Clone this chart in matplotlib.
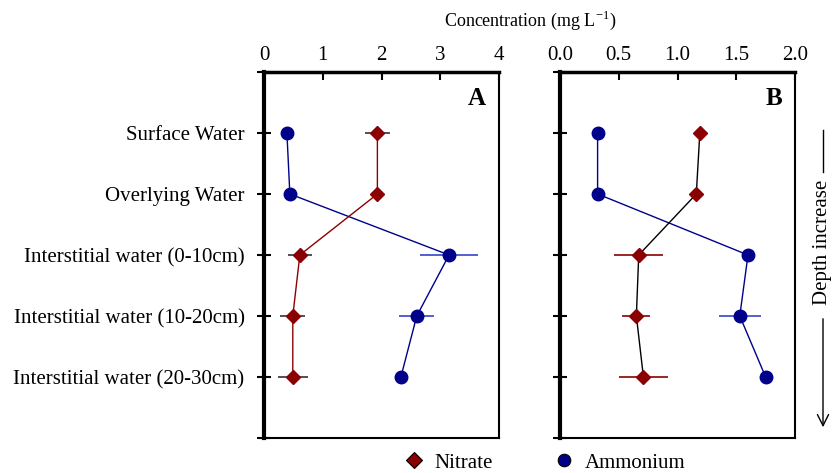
import matplotlib
matplotlib.use("Agg")
import matplotlib.pyplot as plt
from matplotlib.lines import Line2D

plt.rcParams['font.family'] = ['Liberation Serif', 'DejaVu Serif']
plt.rcParams['mathtext.fontset'] = 'custom'
plt.rcParams['mathtext.rm'] = 'Liberation Serif'

# --- data ---
sites = ["Surface Water", "Overlying Water", "Interstitial water (0-10cm)",
         "Interstitial water (10-20cm)", "Interstitial water (20-30cm)"]
depth_pos = [1, 2, 3, 4, 5]

nitrate_a = [1.93, 1.93, 0.61, 0.49, 0.49]
nitrate_a_err = [0.21, 0.10, 0.21, 0.21, 0.26]
ammonium_a = [0.39, 0.44, 3.15, 2.60, 2.33]
ammonium_a_err = [0.0, 0.0, 0.50, 0.30, 0.0]

nitrate_b = [1.19, 1.16, 0.67, 0.65, 0.71]
nitrate_b_err = [0.0, 0.04, 0.21, 0.12, 0.21]
ammonium_b = [0.32, 0.32, 1.60, 1.53, 1.75]
ammonium_b_err = [0.05, 0.0, 0.0, 0.18, 0.0]

RED = '#8b0000'
BLUE = '#00008b'
FS = 15

fig = plt.figure(figsize=(8.33, 4.73), dpi=100)
ax_a = fig.add_axes([264 / 833, 1 - 438 / 473, 235 / 833, 366 / 473])
ax_b = fig.add_axes([560 / 833, 1 - 438 / 473, 235 / 833, 366 / 473])


def draw_panel(ax, nit, nit_err, amm, amm_err, nit_line, nit_ecol, xmax, ticks, ticklabels, letter):
    ax.errorbar(amm, depth_pos, xerr=amm_err, fmt='none', ecolor='#3344cc', elinewidth=1.2, capsize=0, zorder=2)
    ax.errorbar(nit, depth_pos, xerr=nit_err, fmt='none', ecolor=nit_ecol, elinewidth=1.2, capsize=0, zorder=2)
    ax.plot(amm, depth_pos, color=BLUE, lw=1, marker='o', ms=9, mfc=BLUE, mec=BLUE, zorder=3)
    ax.plot(nit, depth_pos, color=nit_line, lw=1, marker='D', ms=7.5, mfc=RED, mec=RED, zorder=3)
    ax.set_xlim(0, xmax)
    ax.set_ylim(6, 0)
    ax.xaxis.tick_top()
    ax.set_xticks(ticks)
    ax.set_xticklabels(ticklabels)
    ax.set_yticks([0, 1, 2, 3, 4, 5, 6])
    ax.tick_params(axis='x', direction='in', length=6, width=1.5, labelsize=FS, pad=5)
    ax.tick_params(axis='y', direction='inout', length=10, width=1.5, labelsize=FS, pad=9)
    ax.spines['left'].set_linewidth(3)
    ax.spines['top'].set_linewidth(2.5)
    ax.spines['right'].set_linewidth(1.5)
    ax.spines['bottom'].set_linewidth(1.5)
    ax.text(0.945, 0.96, letter, transform=ax.transAxes, ha='right', va='top',
            fontsize=18, fontweight='bold')


draw_panel(ax_a, nitrate_a, nitrate_a_err, ammonium_a, ammonium_a_err, RED, '#333333',
           4, [0, 1, 2, 3, 4], ['0', '1', '2', '3', '4'], 'A')
ax_a.set_yticklabels([''] + sites + [''])

draw_panel(ax_b, nitrate_b, nitrate_b_err, ammonium_b, ammonium_b_err, 'black', RED,
           2.0, [0, 0.5, 1.0, 1.5, 2.0], ['0.0', '0.5', '1.0', '1.5', '2.0'], 'B')
ax_b.set_yticklabels([])

fig.text(530 / 833, 1 - 20 / 473, r'Concentration (mg L$^{\mathrm{-1}}$)', ha='center', va='center', fontsize=13)

# depth arrow on the right
fig.text(822 / 833, 1 - 242 / 473, 'Depth increase', rotation=90, ha='center', va='center', fontsize=FS)
fig.add_artist(Line2D([823 / 833, 823 / 833], [1 - 130 / 473, 1 - 172 / 473], color='black', lw=1))
ax_b.annotate('', xy=(823 / 833, 1 - 430 / 473), xytext=(823 / 833, 1 - 316 / 473),
              xycoords='figure fraction', textcoords='figure fraction',
              arrowprops=dict(arrowstyle='->', color='black', lw=1, mutation_scale=20))

# legend
handles = [Line2D([], [], ls='none', marker='D', ms=8, mfc=RED, mec='black', mew=0.8, label='Nitrate'),
           Line2D([], [], ls='none', marker='o', ms=9, mfc=BLUE, mec='black', mew=0.8, label='Ammonium')]
fig.legend(handles=handles, loc='center', bbox_to_anchor=(543 / 833, 1 - 463 / 473), ncol=2,
           frameon=False, fontsize=FS, handletextpad=0.4, columnspacing=2.8, handlelength=1.2)

fig.savefig('out.png', dpi=100)
